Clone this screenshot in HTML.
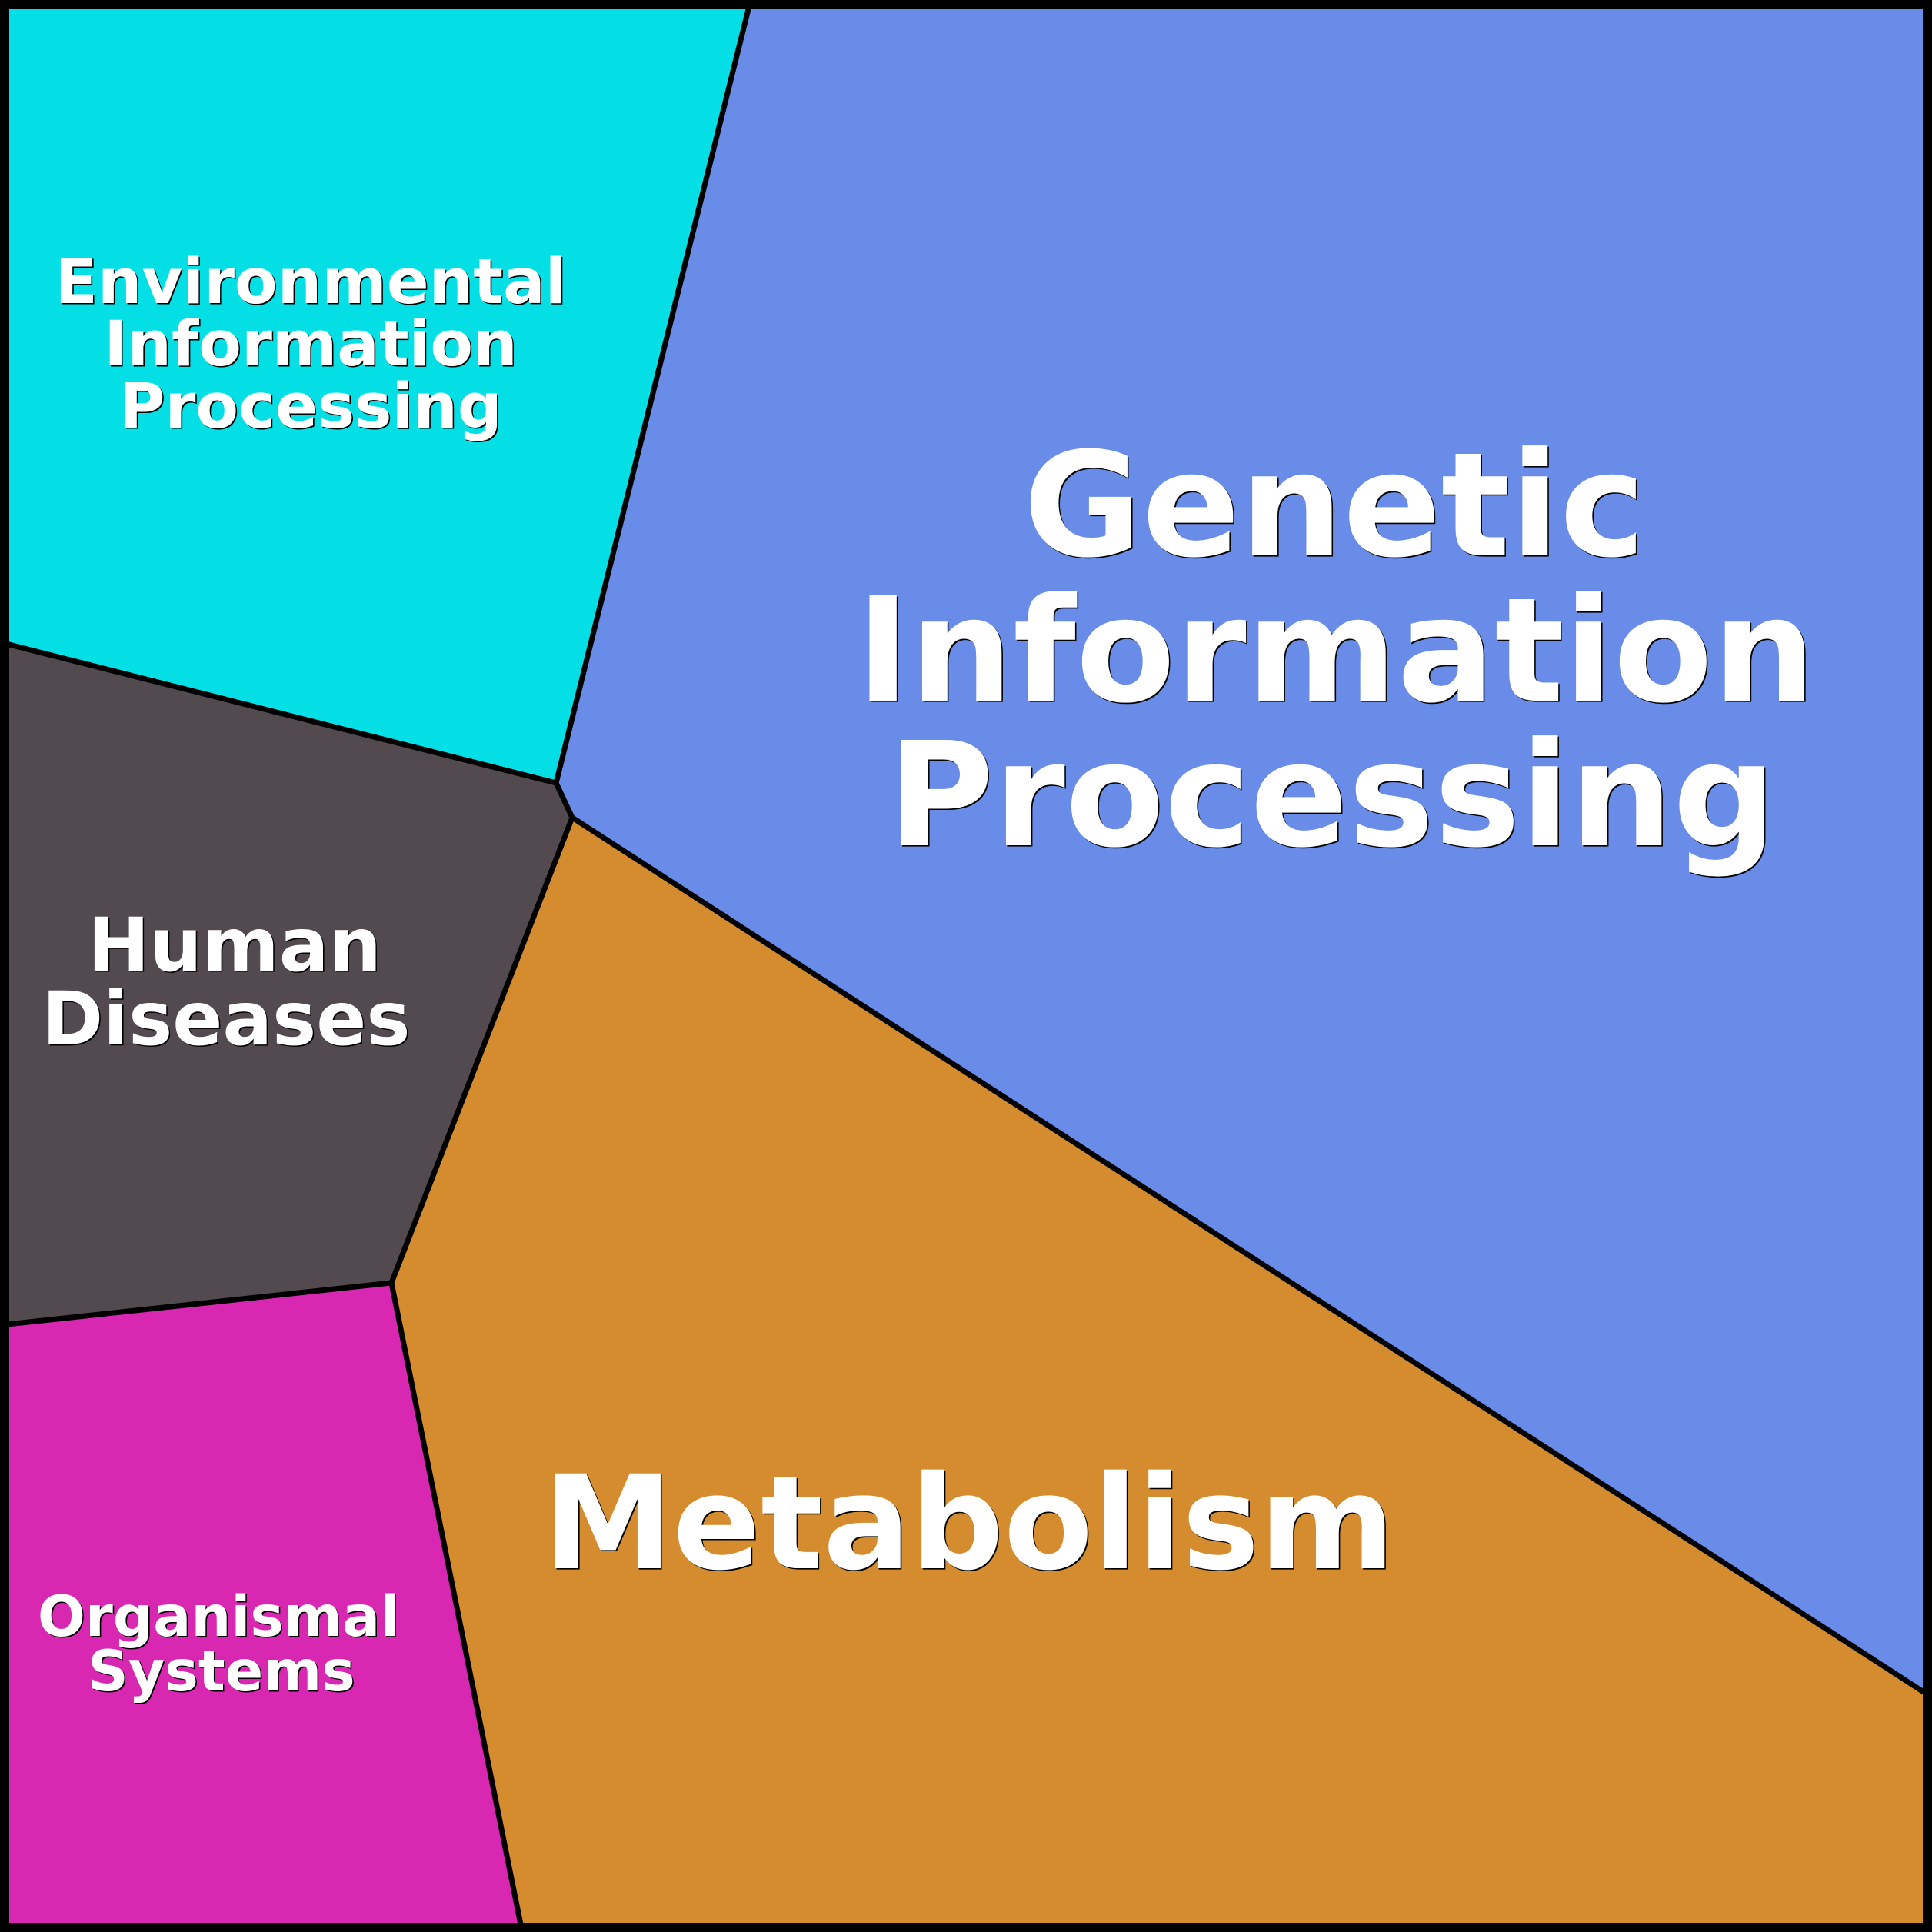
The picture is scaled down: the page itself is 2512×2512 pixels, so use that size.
<!DOCTYPE html>
<html>
<head>
<meta charset="utf-8">
<style>
html,body{margin:0;padding:0;background:#fff;}
svg{display:block;}
text{font-family:"DejaVu Sans","Liberation Sans",sans-serif;font-weight:bold;}
</style>
</head>
<body>
<svg width="2512" height="2512" viewBox="0 0 2512 2512" xmlns="http://www.w3.org/2000/svg">
  <!-- regions -->
  <polygon points="0,0 976,0 723,1018 0,835" fill="#04DEE5"/>
  <polygon points="976,0 2512,0 2512,2207 744,1063 723,1018" fill="#688CE8"/>
  <polygon points="0,835 723,1018 744,1063 509,1668 0,1723" fill="#534A50"/>
  <polygon points="0,1723 509,1668 679,2512 0,2512" fill="#D828B1"/>
  <polygon points="509,1668 744,1063 2512,2207 2512,2512 679,2512" fill="#D58C2E"/>

  <!-- divider lines -->
  <g stroke="#000" stroke-width="7" fill="none" stroke-linejoin="miter">
    <polyline points="976,0 723,1018 744,1063 2512,2207"/>
    <polyline points="0,835 723,1018"/>
    <polyline points="744,1063 509,1668 679,2512"/>
    <polyline points="0,1723 509,1668"/>
  </g>

  <!-- outer border -->
  <rect x="6" y="6" width="2500" height="2500" fill="none" stroke="#000" stroke-width="12"/>

  <!-- Labels: shadow -->
  <g fill="#000" text-anchor="middle" transform="translate(1.6,1.6)">
    <text x="404" y="394" font-size="81">Environmental</text>
    <text x="404" y="475" font-size="81">Information</text>
    <text x="404" y="556" font-size="81">Processing</text>

    <text x="1735" y="722" font-size="188">Genetic</text>
    <text x="1737" y="911" font-size="188">Information</text>
    <text x="1732" y="1099" font-size="188">Processing</text>

    <text x="305" y="1262" font-size="96">Human</text>
    <text x="294" y="1358" font-size="96">Diseases</text>

    <text x="284" y="2127" font-size="73">Organismal</text>
    <text x="288" y="2198" font-size="73">Systems</text>

    <text x="1260" y="2039" font-size="169">Metabolism</text>
  </g>
  <!-- Labels: white -->
  <g fill="#fff" text-anchor="middle">
    <text x="404" y="394" font-size="81">Environmental</text>
    <text x="404" y="475" font-size="81">Information</text>
    <text x="404" y="556" font-size="81">Processing</text>

    <text x="1735" y="722" font-size="188">Genetic</text>
    <text x="1737" y="911" font-size="188">Information</text>
    <text x="1732" y="1099" font-size="188">Processing</text>

    <text x="305" y="1262" font-size="96">Human</text>
    <text x="294" y="1358" font-size="96">Diseases</text>

    <text x="284" y="2127" font-size="73">Organismal</text>
    <text x="288" y="2198" font-size="73">Systems</text>

    <text x="1260" y="2039" font-size="169">Metabolism</text>
  </g>
</svg>
</body>
</html>
